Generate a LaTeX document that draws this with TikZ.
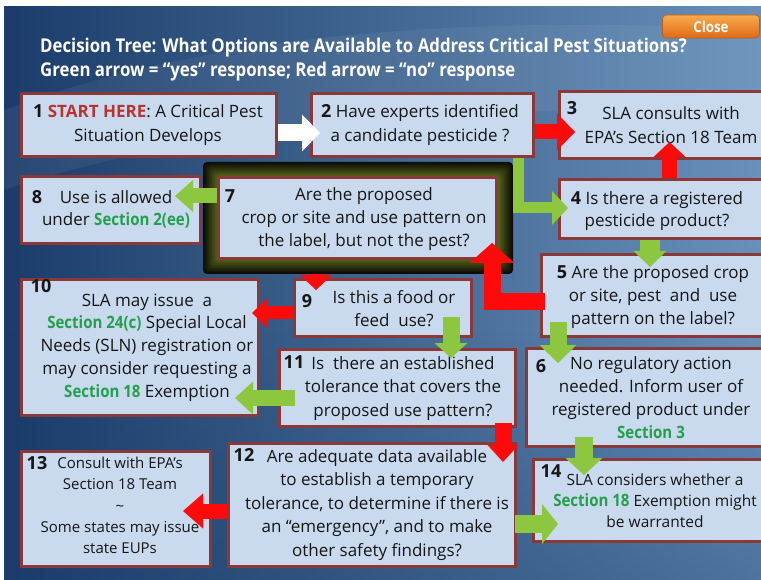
\documentclass[tikz,border=0pt]{standalone}
\usepackage{fontspec}
\setmainfont{Open Sans}
\newfontfamily\narrowfont[FakeStretch=0.885]{Open Sans}
\usetikzlibrary{arrows.meta,calc,fadings}

\definecolor{bgdark}{HTML}{1B3C6A}
\definecolor{bglight}{HTML}{6890BA}
\definecolor{boxfill}{HTML}{C9D9EE}
\definecolor{boxedge}{HTML}{8A3838}
\definecolor{yesgreen}{HTML}{8DC63F}
\definecolor{nored}{HTML}{FF0A0A}
\definecolor{secgreen}{HTML}{22A04B}
\definecolor{startred}{HTML}{B8342F}
\definecolor{glowolive}{HTML}{707F22}
\definecolor{glowdark}{HTML}{0B0C06}
\definecolor{closetop}{HTML}{F8AA4C}
\definecolor{closebot}{HTML}{E06A16}
\definecolor{closeedge}{HTML}{C25A14}
\definecolor{inktext}{HTML}{161616}

\newcommand\boxnum[1]{{\fontsize{18}{18}\selectfont\bfseries #1}}
\newcommand\greenbold[1]{{\narrowfont\bfseries\fontsize{17}{17}\selectfont\color{secgreen}#1}}

\tikzset{
  box/.style={draw=boxedge, line width=3pt, fill=boxfill, inner sep=0pt},
  txt/.style={align=center, inner sep=0pt, text=inktext,
    font=\fontsize{17}{23}\selectfont},
  num/.style={inner sep=0pt, text=inktext, font=\fontsize{18}{18}\selectfont\bfseries},
  yesarrow/.style n args={3}{draw=yesgreen, line width=#1, line join=miter,
    arrows={-Triangle[width=#2, length=#3, line width=0pt]}},
  noarrow/.style n args={3}{draw=nored, line width=#1, line join=miter,
    arrows={-Triangle[width=#2, length=#3, line width=0pt]}},
  startarrow/.style n args={3}{draw=white, line width=#1, line join=miter,
    arrows={-Triangle[width=#2, length=#3, line width=0pt]}},
  heading/.style={anchor=west, inner sep=0pt, text=white,
    font=\narrowfont\bfseries\fontsize{19}{22}\selectfont},
}

\begin{document}
\begin{tikzpicture}[x=1pt, y=-1pt]
\useasboundingbox (0,0) rectangle (761,580);
\clip (0,0) rectangle (761,580);

% backdrop panel
\fill[white] (0,0) rectangle (761,580);
\shade[left color=bgdark, right color=bglight] (4,7) rectangle (761,580);
\fill[bgdark, path fading=north, opacity=.35] (4,330) rectangle (761,580);
\fill[white, opacity=.06] (4,110) .. controls (220,30) and (480,15) .. (761,30)
  -- (761,120) .. controls (480,95) and (220,120) .. (4,190) -- cycle;

% close button
\node[draw=closeedge, line width=0.6pt, rounded corners=4pt,
  top color=closetop, bottom color=closebot,
  minimum width=97pt, minimum height=23pt, inner sep=0pt,
  text=white, font=\narrowfont\bfseries\fontsize{15}{15}\selectfont]
  (closebtn) at (711,26.5) {Close};

% heading
\node[heading] (title1) at (40,48)
  {Decision Tree: What Options are Available to Address Critical Pest Situations?};
\node[heading] (title2) at (40,72)
  {Green arrow = “yes” response; Red arrow = “no” response};

% decision boxes
\node[box, minimum width=255pt, minimum height=63pt] (b1) at (149,125) {};
\node[box, minimum width=222pt, minimum height=63pt] (b2) at (422.5,125) {};
\node[box, minimum width=204pt, minimum height=67pt] (b3) at (661.5,125) {};
\node[box, minimum width=204pt, minimum height=59pt] (b4) at (661.5,209) {};
\node[box, minimum width=222pt, minimum height=82pt] (b5) at (652.5,295.5) {};
\node[box, minimum width=237pt, minimum height=98pt] (b6) at (645,397.5) {};
\node[box, minimum width=179pt, minimum height=67pt] (b8) at (111,210) {};
\node[box, minimum width=177pt, minimum height=57pt] (b9) at (383,308) {};
\node[box, minimum width=237pt, minimum height=136pt] (b10) at (140,347.5) {};
\node[box, minimum width=236pt, minimum height=77pt] (b11) at (397.5,388) {};
\node[box, minimum width=287pt, minimum height=123pt] (b12) at (372,505) {};
\node[box, minimum width=189pt, minimum height=115pt] (b13) at (116,509) {};
\node[box, minimum width=230pt, minimum height=82pt] (b14) at (648.5,500.5) {};

% "no" from 7 to 9 (its shaft runs under the highlight)
\coordinate (c7) at (316,250);
\draw[noarrow={15pt}{32pt}{15pt}] (c7) -- ([xshift=-67pt, yshift=-12pt]b9.north);

% highlighted box 7 with glow
\foreach \k [evaluate=\k as \p using int(\k*8), evaluate=\k as \d using \k*1.5] in {0,...,9}
  \fill[glowolive!\p!glowdark, rounded corners=4pt]
    ({203+\d},{162+\d}) rectangle ({513-\d},{274-\d});
\node[box, minimum width=278pt, minimum height=81pt] (b7) at (357.5,218) {};

% box texts
\node[txt, font=\fontsize{17}{24}\selectfont] (t1) at (148,125)
  {\boxnum{1} {\bfseries\color{startred}START HERE}: A Critical Pest\\Situation Develops};
\node[txt, font=\fontsize{17}{24}\selectfont] (t2) at (420,125)
  {\boxnum{2} Have experts identified\\a candidate pesticide ?};
\node[num] (n3) at (572,108) {3};
\node[txt, font=\fontsize{17}{24}\selectfont] (t3) at (671,125)
  {SLA consults with\\EPA’s Section 18 Team};
\node[txt, font=\fontsize{17}{22}\selectfont] (t4) at (657,211)
  {\boxnum{4} Is there a registered\\pesticide product?};
\node[txt] (t5) at (653,297)
  {\boxnum{5} Are the proposed crop\\or site, pest\ \ and\ \ use\\pattern on the label?};
\node[num] (n6) at (541,366) {6};
\node[txt] (t6) at (651,398)
  {No regulatory action\\needed. Inform user of\\registered product under\\\greenbold{Section 3}};
\node[num] (n7) at (230,196) {7};
\node[txt] (t7) at (364,219.5)
  {Are the proposed\\crop or site and use pattern on\\the label, but not the pest?};
\node[num] (n8) at (37,197) {8};
\node[txt, font=\fontsize{17}{22}\selectfont] (t8) at (116,209)
  {Use is allowed\\under \greenbold{Section 2(ee)}};
\node[num] (n9) at (307,301) {9};
\node[txt] (t9) at (394,308.5) {Is this a food or\\feed\ \ use?};
\node[num] (n10) at (41,286) {10};
\node[txt, font=\fontsize{17}{22.75}\selectfont] (t10) at (147,347.5)
  {SLA may issue\ \ a\\\greenbold{Section 24(c)} Special Local\\Needs (SLN) registration or\\may consider requesting a\\\greenbold{Section 18} Exemption};
\node[num] (n11) at (294,362) {11};
\node[txt, font=\fontsize{17}{23.5}\selectfont] (t11) at (403,388.5)
  {Is\ \ there an established\\tolerance that covers the\\proposed use pattern?};
\node[num] (n12) at (244,455) {12};
\node[txt, font=\fontsize{17}{23.5}\selectfont] (t12) at (377,505)
  {Are adequate data available\\to establish a temporary\\tolerance, to determine if there is\\an “emergency”, and to make\\other safety findings?};
\node[num] (n13) at (37,463) {13};
\node[txt, font=\fontsize{15}{21.25}\selectfont] (t13) at (120,505.5)
  {Consult with EPA’s\\Section 18 Team\\\textasciitilde\\Some states may issue\\state EUPs};
\node[num] (n14) at (551,471) {14};
\node[txt, font=\fontsize{15.5}{21}\selectfont] (t14) at (655,501)
  {SLA considers whether a\\\greenbold{Section 18} Exemption might\\be warranted};

% connectors
\draw[startarrow={17pt}{37pt}{18pt}] ([yshift=-8pt]b1.east) -- ([xshift=10pt, yshift=-8pt]b2.west);
\draw[noarrow={15pt}{37pt}{18pt}] ([yshift=-7pt]b2.east) -- ([xshift=17pt, yshift=-7pt]b3.west);
\draw[noarrow={15pt}{32pt}{15pt}] ([xshift=8pt]b4.north) -- ([xshift=8pt, yshift=18pt]b3.south);
\draw[yesarrow={11pt}{34pt}{16pt}] ([xshift=-17pt]b2.south east) |- ([xshift=10pt, yshift=1pt]b4.west);
\draw[yesarrow={20pt}{33pt}{16pt}] ([xshift=-11.5pt]b4.south) -- ([xshift=-2.5pt, yshift=-14pt]b5.north);
\draw[noarrow={17pt}{45pt}{20pt}] ([xshift=5pt, yshift=-6pt]b5.west) -| ([xshift=134.5pt, yshift=17pt]b7.south);
\draw[yesarrow={15pt}{32pt}{18pt}] ([yshift=22pt]b7.west) -- ([xshift=-27pt, yshift=14pt]b8.east);
\draw[noarrow={13pt}{29pt}{15pt}] ([yshift=-5pt]b9.west) -- ([xshift=-8pt, yshift=34.5pt]b10.east);
\draw[yesarrow={17pt}{33pt}{15pt}] ([xshift=68pt, yshift=21pt]b9.south) -- ([xshift=53.5pt, yshift=-10pt]b11.north);
\draw[yesarrow={17pt}{37pt}{18pt}] ([xshift=-94.5pt, yshift=16pt]b5.south) -- ([xshift=-87pt, yshift=-16pt]b6.north);
\draw[yesarrow={16pt}{33pt}{18pt}] ([xshift=17pt, yshift=-10pt]b11.west) -- ([xshift=-25pt, yshift=19pt]b10.south east);
\draw[noarrow={17pt}{31pt}{17pt}] ([xshift=-14pt, yshift=5pt]b11.south east) -- ([xshift=-14pt, yshift=-20pt]b12.north east);
\draw[yesarrow={18pt}{37pt}{17pt}] ([xshift=-61pt, yshift=11pt]b6.south) -- ([xshift=-64.5pt, yshift=-17pt]b14.north);
\draw[yesarrow={18pt}{40pt}{16pt}] ([xshift=-2pt, yshift=-19pt]b12.east) -- ([xshift=26pt, yshift=-23.5pt]b14.west);
\draw[noarrow={15pt}{35pt}{20pt}] ([yshift=-6pt]b12.west) -- ([xshift=-29pt, yshift=-2pt]b13.east);
\end{tikzpicture}
\end{document}
